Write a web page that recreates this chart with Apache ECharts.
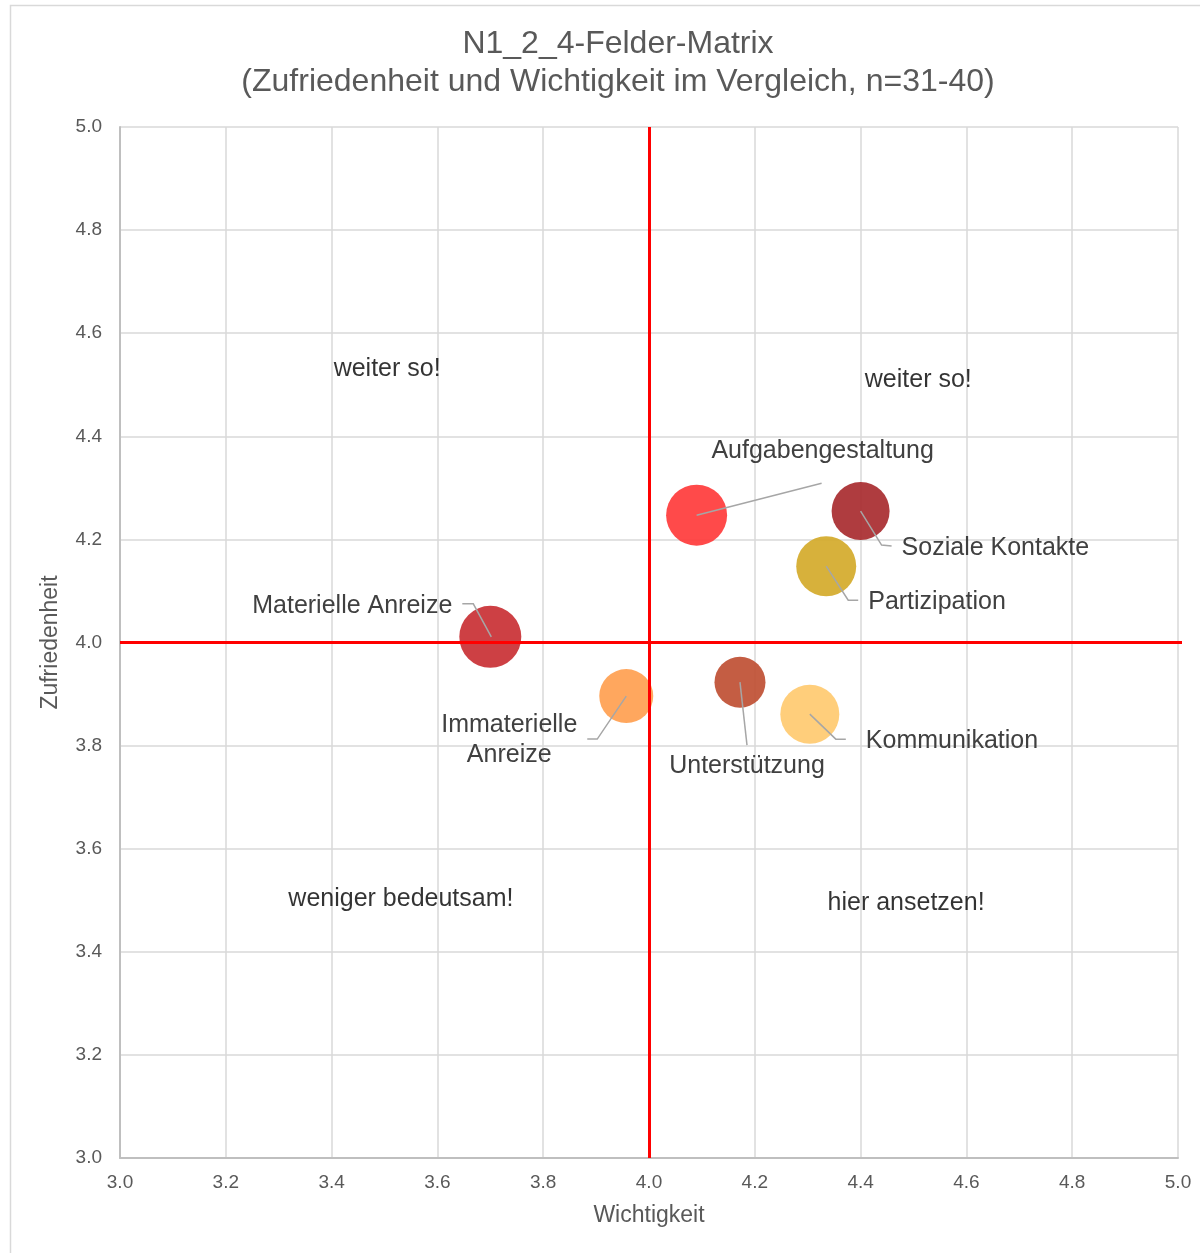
<!DOCTYPE html>
<html style="height: 100%">
<head>
	<meta charset="utf-8">
	<script type="text/javascript" src="https://cdn.jsdelivr.net/npm/echarts@6/dist/echarts.min.js"></script>
</head>
<body style="height: 100%; margin: 0; background: #fff">
	<div id="container" style="height:1253px;width:1200px"></div>
</body>
<script type="text/javascript">
	var dom = document.getElementById("container");
	var myChart = echarts.init(dom);

	// Daten
	let names = ['Aufgabengestaltung', 'Soziale Kontakte', 'Partizipation', 'Materielle Anreize',
		'Immaterielle\nAnreize', 'Unterstützung', 'Kommunikation'];
	let wichtigkeit = [4.09, 4.40, 4.335, 3.70, 3.957, 4.172, 4.304];
	let zufriedenheit = [4.247, 4.255, 4.148, 4.011, 3.896, 3.923, 3.861];
	let bubbleSize = [61, 58, 60, 62, 54, 51, 59];
	let colors = ['#ff3b3b', '#a82b2f', '#d4aa2a', '#c93034', '#ff9f50', '#bf4f33', '#ffca70'];

	let quadrantText = ['weiter so!', 'weiter so!', 'weniger bedeutsam!', 'hier ansetzen!'];
	let quadrantX = [3.505, 4.509, 3.531, 4.486];
	let quadrantY = [4.531, 4.509, 3.502, 3.495];

	let FONT = 'Liberation Sans, Arial, sans-serif';

	// Beschriftungen: Versatz der Führungslinie (Pixel) relativ zum Blasenmittelpunkt
	let leader = [
		{ pts: [[0, 0], [125, -32]], text: [126, -64], align: 'center' },
		{ pts: [[0, 0], [21, 34], [31, 35]], text: [41, 37], align: 'left' },
		{ pts: [[0, 0], [22, 34], [32, 34]], text: [42, 36], align: 'left' },
		{ pts: [[1, 0], [-17, -33], [-28, -33]], text: [-38, -31], align: 'right' },
		{ pts: [[0, 0], [-29, 43], [-39, 43]], text: [-117, 44], align: 'center' },
		{ pts: [[0, 0], [7, 63]], text: [7, 84], align: 'center' },
		{ pts: [[0, 0], [26, 25], [36, 25]], text: [56, 27], align: 'left' }
	];

	let bubbleData = names.map((n, i) => ({
		name: n,
		value: [wichtigkeit[i], zufriedenheit[i]],
		symbolSize: bubbleSize[i],
		itemStyle: { color: colors[i], opacity: 0.92 }
	}));

	let quadData = quadrantText.map((t, i) => ({ name: t, value: [quadrantX[i], quadrantY[i]] }));

	let option = {
		animation: false,
		textStyle: { fontFamily: FONT },
		title: {
			text: 'N1_2_4-Felder-Matrix\n(Zufriedenheit und Wichtigkeit im Vergleich, n=31-40)',
			left: 613,
			top: 20,
			textAlign: 'center',
			textStyle: { fontSize: 32, fontWeight: 'normal', color: '#595959', lineHeight: 38 }
		},
		grid: { left: 120, right: 22, top: 127, bottom: 95 },
		xAxis: {
			type: 'value', min: 3, max: 5, interval: 0.2,
			name: 'Wichtigkeit', nameLocation: 'middle', nameGap: 46,
			nameTextStyle: { fontSize: 23, color: '#595959' },
			axisLine: { show: true, lineStyle: { color: '#bfbfbf', width: 2 } },
			axisTick: { show: false },
			axisLabel: { fontSize: 19, color: '#595959', margin: 15, formatter: (v) => v.toFixed(1) },
			splitLine: { lineStyle: { color: '#d9d9d9', width: 1.5 } }
		},
		yAxis: {
			type: 'value', min: 3, max: 5, interval: 0.2,
			name: 'Zufriedenheit', nameLocation: 'middle', nameGap: 58,
			nameTextStyle: { fontSize: 23, color: '#595959' },
			axisLine: { show: true, lineStyle: { color: '#bfbfbf', width: 2 } },
			axisTick: { show: false },
			axisLabel: { fontSize: 19, color: '#595959', margin: 18, formatter: (v) => v.toFixed(1) },
			splitLine: { lineStyle: { color: '#d9d9d9', width: 1.5 } }
		},
		graphic: [{
			type: 'rect', shape: { x: 10.5, y: 5.5, width: 1300, height: 1300 },
			style: { fill: 'none', stroke: '#d9d9d9', lineWidth: 1.5 }, silent: true, z: -10
		}],
		series: [
			{
				type: 'scatter',
				data: bubbleData,
				z: 3,
				markLine: {
					silent: true,
					symbol: 'none',
					label: { show: false },
					lineStyle: { color: '#ff0000', width: 3, type: 'solid' },
					data: [{ xAxis: 4 }, { yAxis: 4 }]
				}
			},
			{
				type: 'scatter',
				data: quadData,
				symbolSize: 0,
				label: { show: true, position: 'inside', formatter: '{b}', fontSize: 25, color: '#000' }
			}
		]
	};

	myChart.setOption(option);

	// Führungslinien und Beschriftungen aus den Datenpunkten ableiten
	let extra = [];
	names.forEach((n, i) => {
		let c = myChart.convertToPixel({ gridIndex: 0 }, [wichtigkeit[i], zufriedenheit[i]]);
		let L = leader[i];
		extra.push({
			type: 'polyline', silent: true, z: 10,
			shape: { points: L.pts.map(p => [c[0] + p[0], c[1] + p[1]]) },
			style: { stroke: '#a6a6a6', lineWidth: 1.5, fill: 'none' }
		});
		extra.push({
			type: 'text', silent: true, z: 10,
			x: c[0] + L.text[0], y: c[1] + L.text[1],
			style: {
				text: n, fontSize: 25, fill: '#404040', lineHeight: 30,
				textAlign: L.align, textVerticalAlign: 'middle',
				fontFamily: FONT
			}
		});
	});
	// Verlängerung der horizontalen Linie über den Plotbereich hinaus
	let r = myChart.convertToPixel({ gridIndex: 0 }, [5, 4]);
	extra.push({
		type: 'line', silent: true, z: 5,
		shape: { x1: r[0], y1: r[1], x2: r[0] + 4, y2: r[1] },
		style: { stroke: '#ff0000', lineWidth: 3 }
	});
	myChart.setOption({ graphic: option.graphic.concat(extra) });
</script>
</html>
